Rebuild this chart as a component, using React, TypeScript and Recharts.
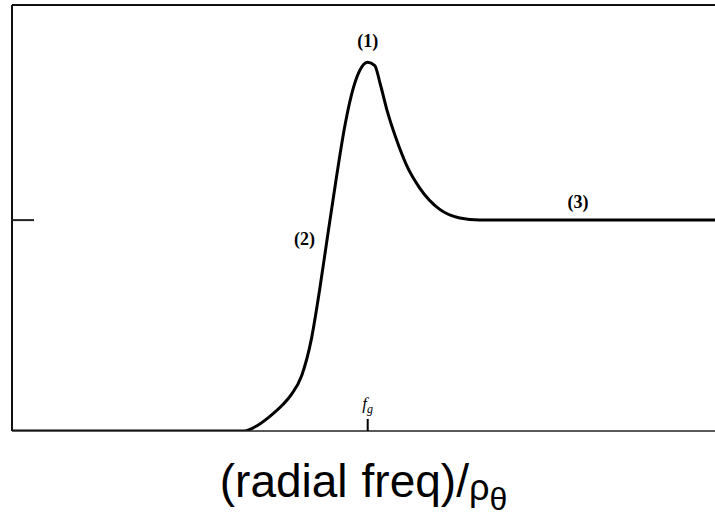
import React from 'react';
import { LineChart, Line, XAxis, YAxis, ReferenceLine, ReferenceDot } from 'recharts';

// frequency axis (arbitrary units) and normalised response
const freq = [0, 3.3, 3.48, 3.66, 3.85, 3.97, 4.12, 4.26, 4.37, 4.47, 4.62, 4.73, 4.83, 4.94, 5.06, 5.16, 5.24, 5.34, 5.46, 5.61, 5.8, 6.08, 6.37, 6.65, 10];
const response = [0, 0, 0.024, 0.067, 0.124, 0.171, 0.262, 0.438, 0.657, 0.881, 1.214, 1.438, 1.595, 1.705, 1.748, 1.733, 1.643, 1.514, 1.39, 1.262, 1.152, 1.052, 1.01, 1.0, 1.0];

const fg = 5.06;
const plateau = 1;
const yTop = 2.02;

const markerText = ['(1)', '(2)', '(3)'];
const markerX = [5.06, 4.16, 8.05];
const markerY = [1.85, 0.91, 1.09];

const data = freq.map((f, i) => ({ f, r: response[i] }));

const FgTick: React.FC<any> = ({ x, y }) => (
  <text x={x} y={y} textAnchor="middle" fontFamily="Liberation Serif" fontStyle="italic" fontSize={17} fill="#000">
    f<tspan fontSize={12} dy={4}>g</tspan>
  </text>
);

const NoLabel: React.FC<any> = () => null;

const AxisTitle: React.FC<any> = ({ viewBox }) => {
  const cx = viewBox.x + viewBox.width / 2;
  return (
    <text x={cx} y={viewBox.y + 67} textAnchor="middle" fontFamily="Liberation Sans, Arial" fontSize={46} fill="#000">
      (radial<tspan dx={14}>freq)/</tspan>
      <tspan fontSize={36} dy={3}>ρ</tspan>
      <tspan fontSize={32} dy={10}>θ</tspan>
    </text>
  );
};

export default function App() {
  return (
    <div style={{ position: 'absolute', left: 0, top: 0, background: '#fff' }}>
      <LineChart width={715} height={517} data={data} margin={{ top: 5, right: 0, left: 12, bottom: 86 }}>
        <XAxis
          type="number"
          dataKey="f"
          domain={[0, 10]}
          ticks={[fg]}
          height={1}
          mirror
          tickSize={12}
          tickMargin={10}
          tick={<FgTick />}
          tickLine={{ stroke: '#000', strokeWidth: 2 }}
          axisLine={{ stroke: '#222', strokeWidth: 1.5 }}
          label={<AxisTitle />}
        />
        <YAxis
          type="number"
          domain={[0, yTop]}
          allowDataOverflow
          ticks={[plateau]}
          width={1}
          mirror
          tickSize={22}
          tick={<NoLabel />}
          tickLine={{ stroke: '#222', strokeWidth: 2 }}
          axisLine={{ stroke: '#111', strokeWidth: 2 }}
        />
        <ReferenceLine y={yTop} stroke="#111" strokeWidth={2} />
        <Line
          type="monotone"
          dataKey="r"
          stroke="#000"
          strokeWidth={3}
          dot={false}
          isAnimationActive={false}
        />
        {markerText.map((t, i) => (
          <ReferenceDot
            key={t}
            x={markerX[i]}
            y={markerY[i]}
            r={0}
            fill="none"
            stroke="none"
            label={{ value: t, position: 'center', fill: '#000', fontSize: 18, fontFamily: 'Liberation Serif', fontWeight: 'bold' }}
          />
        ))}
      </LineChart>
    </div>
  );
}
